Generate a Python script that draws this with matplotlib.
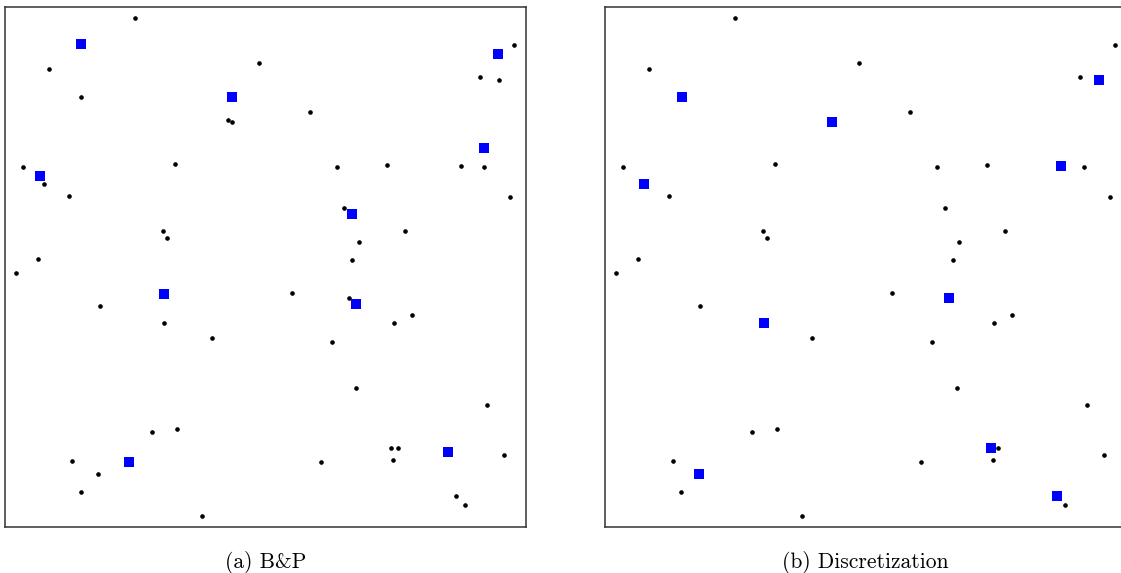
import matplotlib
matplotlib.use("Agg")
import matplotlib.pyplot as plt

# customer locations (shared by both panels)
cust_x = [25.0, 8.5, 14.7, 48.8, 42.9, 43.6, 3.5, 7.5, 32.7, 12.3,
          30.4, 31.1, 6.3, 97.8, 91.2, 94.9, 58.6, 63.8, 73.3, 87.6,
          92.0, 96.9, 65.2, 76.8, 68.0, 66.7, 2.1, 18.2, 30.5, 39.8,
          28.3, 33.1, 13.0, 18.0, 14.6, 37.9, 55.1, 66.1, 78.1, 74.7,
          62.8, 67.5, 92.6, 74.1, 75.5, 74.5, 60.7, 95.8, 86.7, 88.3]
cust_y = [97.9, 88.0, 82.6, 89.1, 78.2, 77.8, 69.2, 66.0, 69.7, 63.6,
          56.8, 55.5, 51.6, 92.7, 86.5, 86.0, 79.7, 69.2, 69.6, 69.4,
          69.1, 63.5, 61.3, 56.9, 54.8, 51.4, 48.8, 42.5, 39.2, 36.4,
          18.2, 18.9, 12.7, 10.2, 6.7, 2.1, 45.0, 44.0, 40.7, 39.3,
          35.6, 26.7, 23.5, 15.1, 15.1, 12.8, 12.4, 13.9, 5.9, 4.3]

# facilities found by B&P
bp_x = [14.7, 43.6, 6.8, 94.7, 92.0, 66.7, 30.5, 23.9, 67.5, 85.0]
bp_y = [92.9, 82.6, 67.5, 90.9, 72.9, 60.1, 44.8, 12.5, 42.9, 14.4]

# facilities found by discretization (on customer sites)
disc_x = [14.7, 43.6, 7.5, 94.9, 87.6, 30.5, 18.0, 66.1, 74.1, 86.7]
disc_y = [82.6, 77.8, 66.0, 86.0, 69.4, 39.2, 10.2, 44.0, 15.1, 5.9]

W, H = 1121, 573
fig = plt.figure(figsize=(W / 100, H / 100), dpi=100)

panels = [
    (4.7, bp_x, bp_y, "(a) B&P"),
    (605.0, disc_x, disc_y, "(b) Discretization"),
]

for left, fx, fy, caption in panels:
    ax = fig.add_axes([left / W, 46 / H, 521 / W, 520.3 / H])
    ax.plot(cust_x, cust_y, "o", color="black", markersize=2.3, zorder=2)
    ax.plot(fx, fy, "s", color="blue", markersize=6.5, markeredgewidth=0, zorder=3)
    ax.set_xlim(0, 100)
    ax.set_ylim(0, 100)
    ax.set_xticks([])
    ax.set_yticks([])
    for s in ax.spines.values():
        s.set_linewidth(1.1)
        s.set_color("#333333")
    fig.text((left + 260.5) / W, 1 - 562 / H, caption, ha="center", va="center",
             family="cmr10", fontsize=15.5)

fig.savefig("out.png", dpi=100)
